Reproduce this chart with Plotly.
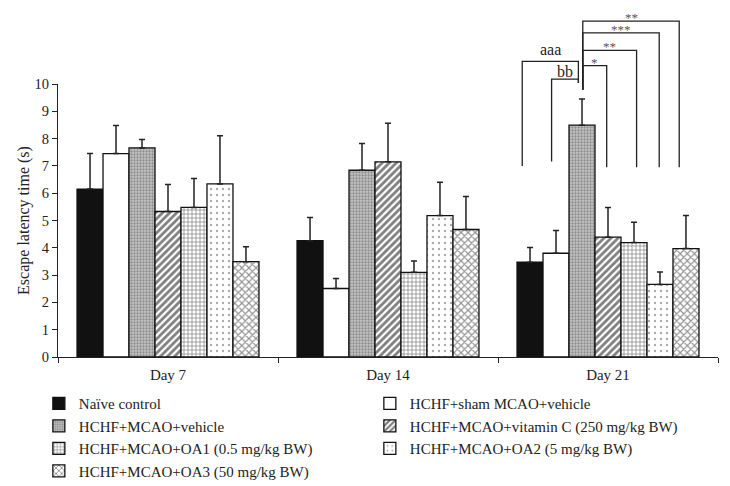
import plotly.graph_objects as go

# ---------------- data ----------------
days = ["Day 7", "Day 14", "Day 21"]
group_names = [
    "Naïve control",
    "HCHF+sham MCAO+vehicle",
    "HCHF+MCAO+vehicle",
    "HCHF+MCAO+vitamin C (250 mg/kg BW)",
    "HCHF+MCAO+OA1 (0.5 mg/kg BW)",
    "HCHF+MCAO+OA2 (5 mg/kg BW)",
    "HCHF+MCAO+OA3 (50 mg/kg BW)",
]
naive = [6.15, 4.26, 3.47]
naive_err = [1.30, 0.85, 0.54]
sham = [7.45, 2.51, 3.80]
sham_err = [1.03, 0.37, 0.83]
vehicle = [7.66, 6.84, 8.49]
vehicle_err = [0.31, 0.98, 0.96]
vitc = [5.33, 7.15, 4.39]
vitc_err = [0.99, 1.41, 1.09]
oa1 = [5.48, 3.10, 4.19]
oa1_err = [1.06, 0.42, 0.75]
oa2 = [6.34, 5.18, 2.66]
oa2_err = [1.76, 1.22, 0.45]
oa3 = [3.49, 4.67, 3.97]
oa3_err = [0.55, 1.21, 1.21]

y_ticks = [0, 1, 2, 3, 4, 5, 6, 7, 8, 9, 10]

# significance brackets on Day 21 (positions in bar units within the group)
# label, left, right, top, left-leg bottom, right-leg bottom
brackets = [
    ("aaa", 0.20, 2.36, 10.83, 7.00, 10.04),
    ("bb", 1.33, 2.36, 10.18, 7.16, 10.04),
    ("*", 2.53, 3.45, 10.67, 9.79, 6.95),
    ("**", 2.53, 4.60, 11.23, 9.79, 6.95),
    ("***", 2.53, 5.47, 11.87, 9.79, 6.95),
    ("**", 2.53, 6.24, 12.30, 9.79, 6.95),
]

# ---------------- styles ----------------
FONT = "Liberation Serif, Times New Roman, serif"
series = [naive, sham, vehicle, vitc, oa1, oa2, oa3]
errors = [naive_err, sham_err, vehicle_err, vitc_err, oa1_err, oa2_err, oa3_err]
styles = [
    dict(color="#111111"),
    dict(color="white"),
    dict(color="#c4c4c4", pattern=dict(shape=".", size=3, solidity=0.45,
                                         fgcolor="#555555", bgcolor="#c4c4c4")),
    dict(color="white", pattern=dict(shape="/", size=5, solidity=0.55,
                                       fgcolor="#000000", bgcolor="white")),
    dict(color="white", pattern=dict(shape="+", size=4, solidity=0.35,
                                       fgcolor="#111111", bgcolor="white")),
    dict(color="white", pattern=dict(shape=".", size=6, solidity=0.12,
                                       fgcolor="#555555", bgcolor="white")),
    dict(color="white", pattern=dict(shape="x", size=5, solidity=0.4,
                                       fgcolor="#222222", bgcolor="white")),
]
label_shift = {"aaa": 2, "bb": -2}

bargap = 0.173
n_groups = len(group_names)

fig = go.Figure()
for name, vals, err, st in zip(group_names, series, errors, styles):
    fig.add_trace(go.Bar(
        x=days, y=vals, name=name,
        marker=dict(line=dict(color="#111111", width=1.3), **st),
        error_y=dict(type="data", array=err, arrayminus=[0] * len(err),
                     symmetric=False, color="#222222", thickness=1.5, width=3),
    ))

# convert bracket coordinates to paper units
x_lo, x_hi = -0.5, len(days) - 0.5
y_hi = y_ticks[-1]
w = (1 - bargap) / n_groups
grp = 2  # Day 21


def xp(k):
    xd = grp - (1 - bargap) / 2 + w * k
    return (xd - x_lo) / (x_hi - x_lo)


def yp(v):
    return v / y_hi


shapes = []
annotations = []
for label, kl, kr, top, lb, rb in brackets:
    path = (f"M {xp(kl)},{yp(lb)} L {xp(kl)},{yp(top)} "
            f"L {xp(kr)},{yp(top)} L {xp(kr)},{yp(rb)}")
    shapes.append(dict(type="path", path=path, xref="paper", yref="paper",
                       line=dict(color="#222222", width=1.3)))
    is_star = label.startswith("*")
    annotations.append(dict(
        x=(xp(kl) + xp(kr)) / 2, y=yp(top), xref="paper", yref="paper",
        text=label, showarrow=False, xanchor="center", yanchor="bottom",
        yshift=-5 if is_star else label_shift.get(label, 0), borderpad=0,
        font=dict(family=FONT, size=13 if is_star else 16,
                  color="#555555" if is_star else "#222222"),
    ))

# the page adds an 8 px body margin, so the figure is drawn 8 px smaller
fig.update_layout(
    width=722, height=478,
    margin=dict(l=50, r=12, t=76, b=129, autoexpand=False),
    paper_bgcolor="white", plot_bgcolor="white",
    font=dict(family=FONT, size=15, color="#222222"),
    barmode="group", bargap=bargap, bargroupgap=0,
    showlegend=True,
    legend=dict(orientation="h", x=-0.029, y=-0.11, xanchor="left",
                yanchor="top", entrywidth=286, entrywidthmode="pixels",
                traceorder="normal", font=dict(family=FONT, size=15),
                bgcolor="rgba(0,0,0,0)", tracegroupgap=0),
    shapes=shapes, annotations=annotations,
)
fig.update_xaxes(range=[x_lo, x_hi], showline=True, linecolor="#222222",
                 linewidth=1, ticks="outside", tickson="boundaries",
                 ticklen=5, tickcolor="#222222", showgrid=False,
                 tickfont=dict(family=FONT, size=15), ticklabelstandoff=4)
fig.update_yaxes(range=[0, y_hi], tickvals=y_ticks, showline=True,
                 linecolor="#222222", linewidth=1, ticks="outside",
                 ticklen=5, tickcolor="#222222", showgrid=False,
                 zeroline=False, tickfont=dict(family=FONT, size=14.5),
                 title=dict(text="Escape latency time (s)",
                            font=dict(family=FONT, size=16), standoff=0))

fig.write_html("out.html")
